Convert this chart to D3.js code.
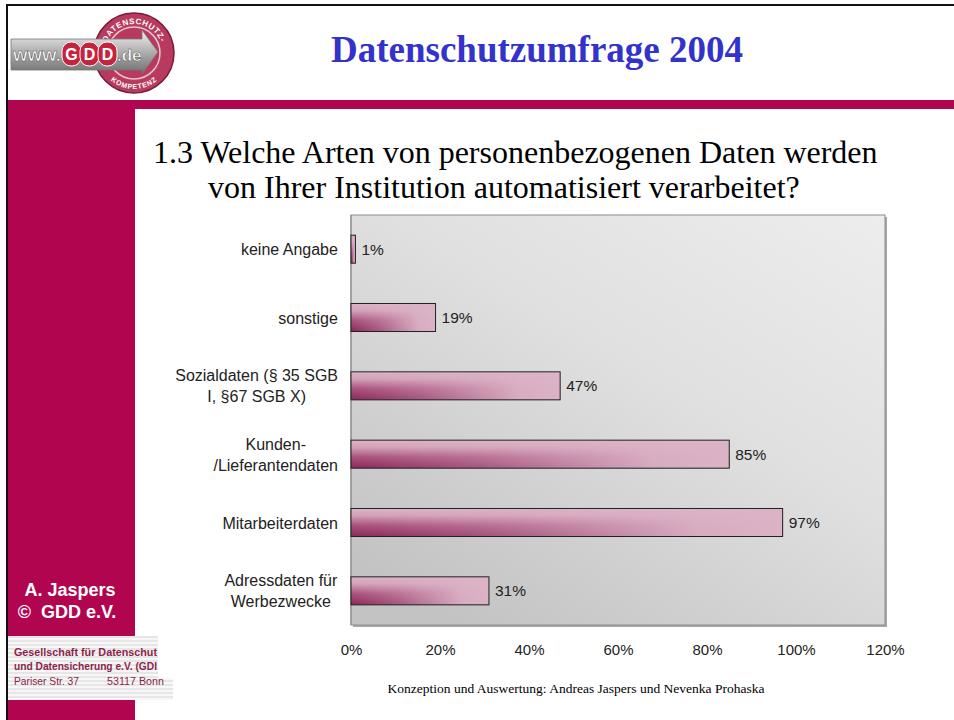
<!DOCTYPE html>
<html>
<head>
<meta charset="utf-8">
<script src="https://cdn.jsdelivr.net/npm/d3@7"></script>
<style>
  html, body { margin: 0; padding: 0; background: #fff; }
  svg { display: block; }
</style>
</head>
<body>
<div id="chart"></div>
<script>
// Datenschutzumfrage 2004 - Frage 1.3, horizontal bar chart

const categories = [
  'keine Angabe',
  'sonstige',
  'Sozialdaten',
  'Kunden',
  'Mitarbeiterdaten',
  'Adressdaten'
]
const categoryLabels = [
  ['keine Angabe'],
  ['sonstige'],
  ['Sozialdaten (§ 35 SGB', 'I, §67 SGB X)'],
  ['Kunden-', '/Lieferantendaten'],
  ['Mitarbeiterdaten'],
  ['Adressdaten für', 'Werbezwecke']
]
const values = [0.01, 0.19, 0.47, 0.85, 0.97, 0.31]
const xTicks = [0, 0.2, 0.4, 0.6, 0.8, 1.0, 1.2]

const W = 954, H = 720
const MAGENTA = '#b1064f'
const SANS = 'Liberation Sans, Arial, sans-serif'
const SERIF = 'Liberation Serif, Times New Roman, serif'
const plot = { left: 351, right: 885, top: 215, bottom: 625 }

const svg = d3.select('#chart').append('svg')
  .attr('width', W)
  .attr('height', H)
  .attr('viewBox', `0 0 ${W} ${H}`)

const defs = svg.append('defs')

// plot background gradient
const bg = defs.append('linearGradient').attr('id', 'plotBg')
  .attr('x1', 1).attr('y1', 0).attr('x2', 0.2).attr('y2', 1)
bg.append('stop').attr('offset', '0%').attr('stop-color', '#ededed')
bg.append('stop').attr('offset', '45%').attr('stop-color', '#e0e0e0')
bg.append('stop').attr('offset', '100%').attr('stop-color', '#c3c3c3')

// bar gradients: vertical base + horizontal light overlay
const barV = defs.append('linearGradient').attr('id', 'barV')
  .attr('x1', 0).attr('y1', 0).attr('x2', 0).attr('y2', 1)
barV.append('stop').attr('offset', '0%').attr('stop-color', '#dcb3c7')
barV.append('stop').attr('offset', '25%').attr('stop-color', '#d3a1b9')
barV.append('stop').attr('offset', '60%').attr('stop-color', '#a8527c')
barV.append('stop').attr('offset', '100%').attr('stop-color', '#8a2759')

const barH = defs.append('linearGradient').attr('id', 'barH')
  .attr('x1', 0).attr('y1', 0).attr('x2', 1).attr('y2', 0)
barH.append('stop').attr('offset', '0%').attr('stop-color', '#dbb2c6').attr('stop-opacity', 0)
barH.append('stop').attr('offset', '35%').attr('stop-color', '#dbb2c6').attr('stop-opacity', 0.35)
barH.append('stop').attr('offset', '80%').attr('stop-color', '#dbb2c6').attr('stop-opacity', 0.95)
barH.append('stop').attr('offset', '100%').attr('stop-color', '#dbb2c6').attr('stop-opacity', 1)

// logo gradients
const silver = defs.append('linearGradient').attr('id', 'silver')
  .attr('x1', 0).attr('y1', 0).attr('x2', 0).attr('y2', 1)
silver.append('stop').attr('offset', '0%').attr('stop-color', '#f2f2f2')
silver.append('stop').attr('offset', '45%').attr('stop-color', '#b5b5b5')
silver.append('stop').attr('offset', '100%').attr('stop-color', '#6e6e6e')

const stripes = defs.append('pattern').attr('id', 'stripes')
  .attr('width', 4).attr('height', 4).attr('patternUnits', 'userSpaceOnUse')
stripes.append('rect').attr('width', 4).attr('height', 4).attr('fill', '#f7f7f7')
stripes.append('rect').attr('width', 4).attr('height', 2).attr('fill', '#e6e6e6')

// ---- slide frame ----
svg.append('rect').attr('x', 8).attr('y', 100).attr('width', W - 8).attr('height', 9).attr('fill', MAGENTA)
svg.append('rect').attr('x', 8).attr('y', 100).attr('width', 127).attr('height', H - 100).attr('fill', MAGENTA)
svg.append('rect').attr('x', 6).attr('y', 4).attr('width', W - 6).attr('height', 2).attr('fill', '#111')
svg.append('rect').attr('x', 6).attr('y', 4).attr('width', 2).attr('height', H - 4).attr('fill', '#111')

// ---- logo ----
const logo = svg.append('g')
logo.append('circle').attr('cx', 134).attr('cy', 53).attr('r', 40)
  .attr('fill', '#b83a5e').attr('stroke', '#7a1a3a').attr('stroke-width', 1.5)
logo.append('circle').attr('cx', 134).attr('cy', 53).attr('r', 26)
  .attr('fill', 'none').attr('stroke', '#e8c4cf').attr('stroke-width', 1.5)
// top arc: glyphs grow outward; bottom arc: glyphs grow toward the centre
defs.append('path').attr('id', 'arcTop').attr('d', 'M 105 53 A 29 29 0 0 1 163 53')
defs.append('path').attr('id', 'arcBot').attr('d', 'M 98 53 A 36 36 0 0 0 170 53')
logo.append('text').attr('font-family', SANS).attr('font-weight', 'bold')
  .attr('font-size', 8).attr('fill', '#fff').attr('letter-spacing', 0.6)
  .append('textPath').attr('href', '#arcTop').attr('startOffset', '50%').attr('text-anchor', 'middle')
  .text('DATENSCHUTZ-')
logo.append('text').attr('font-family', SANS).attr('font-weight', 'bold')
  .attr('font-size', 7).attr('fill', '#fff').attr('letter-spacing', 0.8)
  .append('textPath').attr('href', '#arcBot').attr('startOffset', '50%').attr('text-anchor', 'middle')
  .text('KOMPETENZ')
logo.append('path')
  .attr('d', 'M 11 39 L 142 39 L 142 30 L 158 52 L 142 74 L 142 70 L 11 70 Z')
  .attr('fill', 'url(#silver)').attr('stroke', '#777').attr('stroke-width', 0.8)
logo.append('text').attr('x', 13).attr('y', 61)
  .attr('font-family', SANS).attr('font-weight', 'bold')
  .attr('font-size', 18).attr('fill', '#fff').attr('stroke', '#555').attr('stroke-width', 0.5)
  .attr('textLength', 48).attr('lengthAdjust', 'spacingAndGlyphs')
  .text('www.')
logo.selectAll('rect.gdd').data([0, 1, 2]).join('rect').attr('class', 'gdd')
  .attr('x', d => 62 + d * 18).attr('y', 42).attr('width', 19).attr('height', 24).attr('rx', 9)
  .attr('fill', '#c5243f').attr('stroke', '#fff').attr('stroke-width', 1)
logo.selectAll('text.gdd').data(['G', 'D', 'D']).join('text').attr('class', 'gdd')
  .attr('x', (d, i) => 71.5 + i * 18).attr('y', 60).attr('text-anchor', 'middle')
  .attr('font-family', SANS).attr('font-weight', 'bold')
  .attr('font-size', 16).attr('fill', '#fff').text(d => d)
logo.append('text').attr('x', 117).attr('y', 61)
  .attr('font-family', SANS).attr('font-weight', 'bold')
  .attr('font-size', 17).attr('fill', '#fff').attr('stroke', '#555').attr('stroke-width', 0.5)
  .text('.de')

// ---- titles ----
svg.append('text').attr('x', 537).attr('y', 62).attr('text-anchor', 'middle')
  .attr('font-family', SERIF).attr('font-weight', 'bold')
  .attr('font-size', 37).attr('fill', '#3333cc')
  .text('Datenschutzumfrage 2004')

const q = svg.append('text').attr('font-family', SERIF)
  .attr('font-size', 32).attr('fill', '#000')
q.append('tspan').attr('x', 153).attr('y', 163).text('1.3 Welche Arten von personenbezogenen Daten werden')
q.append('tspan').attr('x', 208).attr('y', 198).text('von Ihrer Institution automatisiert verarbeitet?')

// ---- left column text ----
const side = svg.append('g').attr('font-family', SANS)
  .attr('font-weight', 'bold').attr('font-size', 18).attr('fill', '#fff').attr('text-anchor', 'middle')
side.append('text').attr('x', 70).attr('y', 596).text('A. Jaspers')
side.append('text').attr('x', 67).attr('y', 618).attr('xml:space', 'preserve').text('©  GDD e.V.')

svg.append('rect').attr('x', 8).attr('y', 636).attr('width', 150).attr('height', 50).attr('fill', 'url(#stripes)')
svg.append('rect').attr('x', 8).attr('y', 678).attr('width', 165).attr('height', 22).attr('fill', 'url(#stripes)')
const addr = svg.append('g').attr('font-family', 'Liberation Sans Narrow, Liberation Sans, Arial, sans-serif')
  .attr('font-size', 11.5).attr('fill', '#8e1f4c')
addr.append('text').attr('x', 14).attr('y', 656).attr('font-weight', 'bold').attr('textLength', 143)
  .attr('lengthAdjust', 'spacingAndGlyphs').text('Gesellschaft für Datenschut')
addr.append('text').attr('x', 14).attr('y', 670).attr('font-weight', 'bold').attr('textLength', 143)
  .attr('lengthAdjust', 'spacingAndGlyphs').text('und Datensicherung e.V. (GDI')
addr.append('text').attr('x', 14).attr('y', 685).attr('textLength', 65)
  .attr('lengthAdjust', 'spacingAndGlyphs').text('Pariser Str. 37')
addr.append('text').attr('x', 107).attr('y', 685).attr('textLength', 57)
  .attr('lengthAdjust', 'spacingAndGlyphs').text('53117 Bonn')

// ---- chart ----
const x = d3.scaleLinear().domain([0, 1.2]).range([plot.left, plot.right])
const y = d3.scaleBand().domain(categories).range([plot.top, plot.bottom])
  .paddingInner(0.59).paddingOuter(0.295)

const chart = svg.append('g')

// plot area with shadow
chart.append('rect').attr('x', plot.left + 2).attr('y', plot.top + 2)
  .attr('width', plot.right - plot.left).attr('height', plot.bottom - plot.top).attr('fill', '#a8a8a8')
chart.append('rect').attr('x', plot.left).attr('y', plot.top)
  .attr('width', plot.right - plot.left).attr('height', plot.bottom - plot.top)
  .attr('fill', 'url(#plotBg)').attr('stroke', '#8c8c8c').attr('stroke-width', 1)

// left axis line
chart.append('line').attr('x1', plot.left).attr('x2', plot.left)
  .attr('y1', plot.top).attr('y2', plot.bottom).attr('stroke', '#999').attr('stroke-width', 1.5)

const rows = chart.selectAll('g.row').data(categories).join('g').attr('class', 'row')

rows.append('rect')
  .attr('x', x(0)).attr('y', d => y(d))
  .attr('width', (d, i) => x(values[i]) - x(0)).attr('height', y.bandwidth())
  .attr('fill', 'url(#barV)')
rows.append('rect')
  .attr('x', x(0)).attr('y', d => y(d))
  .attr('width', (d, i) => x(values[i]) - x(0)).attr('height', y.bandwidth())
  .attr('fill', 'url(#barH)').attr('stroke', '#222').attr('stroke-width', 1)

rows.append('text')
  .attr('x', (d, i) => x(values[i]) + 6).attr('y', d => y(d) + y.bandwidth() / 2 + 5.5)
  .attr('font-family', SANS).attr('font-size', 15.5).attr('fill', '#222')
  .text((d, i) => d3.format('.0%')(values[i]))

// category labels: each block centred on itself, right edge against the axis
const catLabels = rows.append('text')
  .attr('text-anchor', 'middle')
  .attr('font-family', SANS).attr('font-size', 16).attr('fill', '#222')
catLabels.each(function (d, i) {
  const lines = categoryLabels[i]
  const cy = y(d) + y.bandwidth() / 2
  const el = d3.select(this)
  lines.forEach((l, j) => {
    el.append('tspan')
      .attr('x', 281)
      .attr('y', cy + 6 + (j - (lines.length - 1) / 2) * 21)
      .text(l)
  })
  const box = this.getBBox()
  const shift = 338 - (box.x + box.width)
  el.selectAll('tspan').attr('x', 281 + shift)
})

// x axis
const xAxis = d3.axisBottom(x).tickValues(xTicks).tickFormat(d3.format('.0%')).tickSize(0).tickPadding(0)
const axisG = chart.append('g').attr('transform', `translate(0,${plot.bottom + 19})`).call(xAxis)
axisG.select('.domain').remove()
axisG.selectAll('text').attr('font-family', SANS)
  .attr('font-size', 15).attr('fill', '#222').attr('dy', '0.71em')

// footer
svg.append('text').attr('x', 576).attr('y', 693).attr('text-anchor', 'middle')
  .attr('font-family', SERIF).attr('font-size', 13.5).attr('fill', '#000')
  .text('Konzeption und Auswertung: Andreas Jaspers und Nevenka Prohaska')
</script>
</body>
</html>
